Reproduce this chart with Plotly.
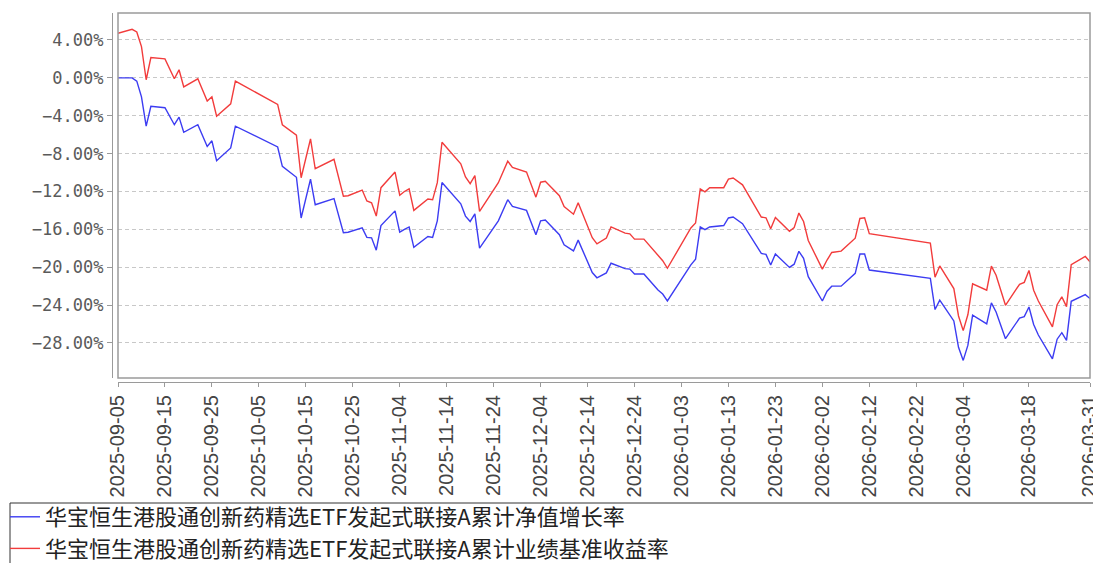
import plotly.graph_objects as go

# ---------------- data ----------------
dates = [
    "2025-09-05", "2025-09-08", "2025-09-09", "2025-09-10", "2025-09-11", "2025-09-12",
    "2025-09-15", "2025-09-17", "2025-09-18", "2025-09-19", "2025-09-22", "2025-09-24",
    "2025-09-25", "2025-09-26", "2025-09-29", "2025-09-30", "2025-10-09", "2025-10-10",
    "2025-10-13", "2025-10-14", "2025-10-16", "2025-10-17", "2025-10-21", "2025-10-23",
    "2025-10-24", "2025-10-27", "2025-10-28", "2025-10-29", "2025-10-30", "2025-10-31",
    "2025-11-03", "2025-11-04", "2025-11-05", "2025-11-06", "2025-11-07", "2025-11-10",
    "2025-11-11", "2025-11-12", "2025-11-13", "2025-11-17", "2025-11-18", "2025-11-19",
    "2025-11-20", "2025-11-21", "2025-11-25", "2025-11-27", "2025-11-28", "2025-12-01",
    "2025-12-03", "2025-12-04", "2025-12-05", "2025-12-08", "2025-12-09", "2025-12-11",
    "2025-12-12", "2025-12-15", "2025-12-16", "2025-12-18", "2025-12-19", "2025-12-22",
    "2025-12-23", "2025-12-24", "2025-12-26", "2025-12-29", "2025-12-30", "2025-12-31",
    "2026-01-05", "2026-01-06", "2026-01-07", "2026-01-08", "2026-01-09", "2026-01-12",
    "2026-01-13", "2026-01-14", "2026-01-16", "2026-01-20", "2026-01-21", "2026-01-22",
    "2026-01-23", "2026-01-26", "2026-01-27", "2026-01-28", "2026-01-29", "2026-01-30",
    "2026-02-02", "2026-02-03", "2026-02-04", "2026-02-06", "2026-02-09", "2026-02-10",
    "2026-02-11", "2026-02-12", "2026-02-25", "2026-02-26", "2026-02-27", "2026-03-02",
    "2026-03-03", "2026-03-04", "2026-03-05", "2026-03-06", "2026-03-09", "2026-03-10",
    "2026-03-11", "2026-03-13", "2026-03-16", "2026-03-17", "2026-03-18", "2026-03-19",
    "2026-03-20", "2026-03-23", "2026-03-24", "2026-03-25", "2026-03-26", "2026-03-27",
    "2026-03-30", "2026-03-31",
]

nav_growth = [
    0.00, 0.00, -0.35, -2.00, -5.10, -3.00,
    -3.15, -4.95, -4.15, -5.75, -4.95, -7.25,
    -6.65, -8.75, -7.40, -5.10, -7.30, -9.35,
    -10.50, -14.80, -10.70, -13.40, -12.75, -16.35,
    -16.30, -15.85, -16.85, -16.90, -18.20, -15.60,
    -14.05, -16.30, -16.00, -15.75, -17.90, -16.75,
    -16.85, -15.10, -11.05, -13.30, -14.60, -15.17,
    -14.36, -17.98, -15.10, -12.87, -13.57, -14.00,
    -16.57, -15.10, -15.02, -16.57, -17.63, -18.28,
    -17.14, -20.56, -21.12, -20.60, -19.58, -20.15,
    -20.20, -20.71, -20.71, -22.41, -22.83, -23.56,
    -19.75, -19.15, -15.75, -16.03, -15.75, -15.60,
    -14.80, -14.69, -15.40, -18.55, -18.64, -19.77,
    -18.60, -20.02, -19.68, -18.32, -19.06, -21.00,
    -23.57, -22.54, -22.00, -22.00, -20.65, -18.60,
    -18.60, -20.30, -21.18, -24.47, -23.48, -25.67,
    -28.46, -29.84, -28.23, -25.07, -25.99, -23.77,
    -24.72, -27.55, -25.37, -25.22, -24.20, -26.05,
    -27.16, -29.67, -27.60, -26.91, -27.72, -23.60,
    -22.90, -23.31,
]

benchmark = [
    4.71, 5.13, 4.85, 3.30, -0.20, 2.15,
    2.00, -0.10, 0.85, -0.95, -0.10, -2.45,
    -2.00, -4.05, -2.75, -0.35, -2.80, -4.95,
    -6.05, -10.55, -6.45, -9.60, -8.60, -12.50,
    -12.45, -11.85, -13.00, -13.20, -14.60, -11.60,
    -9.95, -12.40, -12.00, -11.72, -14.00, -12.80,
    -12.88, -11.07, -6.80, -9.08, -10.47, -11.17,
    -10.33, -14.10, -11.07, -8.80, -9.45, -9.95,
    -12.60, -11.02, -10.93, -12.45, -13.60, -14.40,
    -13.18, -16.88, -17.54, -16.92, -15.75, -16.40,
    -16.48, -17.03, -17.03, -18.80, -19.31, -20.11,
    -15.86, -15.33, -11.72, -12.04, -11.60, -11.60,
    -10.70, -10.58, -11.30, -14.70, -14.78, -15.93,
    -14.75, -16.20, -15.82, -14.28, -15.17, -17.18,
    -20.20, -19.24, -18.44, -18.30, -16.94, -14.85,
    -14.77, -16.45, -17.45, -21.05, -19.86, -22.25,
    -25.15, -26.70, -25.00, -21.76, -22.43, -19.88,
    -20.84, -24.02, -21.80, -21.60, -20.34, -22.43,
    -23.57, -26.30, -23.96, -23.13, -24.16, -19.73,
    -18.86, -19.43,
]

series_names = [
    "华宝恒生港股通创新药精选ETF发起式联接A累计净值增长率",
    "华宝恒生港股通创新药精选ETF发起式联接A累计业绩基准收益率",
]

x_tick_dates = [
    "2025-09-05", "2025-09-15", "2025-09-25", "2025-10-05", "2025-10-15", "2025-10-25",
    "2025-11-04", "2025-11-14", "2025-11-24", "2025-12-04", "2025-12-14", "2025-12-24",
    "2026-01-03", "2026-01-13", "2026-01-23", "2026-02-02", "2026-02-12", "2026-02-22",
    "2026-03-04", "2026-03-18", "2026-03-31",
]
x_tick_labels = list(x_tick_dates)

y_ticks = [4, 0, -4, -8, -12, -16, -20, -24, -28]
y_tick_labels = ["4.00%", "0.00%", "−4.00%", "−8.00%", "−12.00%", "−16.00%",
                 "−20.00%", "−24.00%", "−28.00%"]

# ---------------- layout geometry ----------------
# Positions are given in screen pixels of the reference; the page body has an
# 8px margin, so everything is shifted by OFF inside the figure.
W, H = 1101, 563
OFF = 8
AX_L, AX_R, AX_T, AX_B = 112 - OFF, 1090 - OFF, 13 - OFF, 382 - OFF   # offset spines
BOX_L, BOX_B = 118 - OFF, 378 - OFF                                   # plot border box
pw = AX_R - AX_L
ph = AX_B - AX_T


def px_x(p):
    return (p - OFF - AX_L) / pw


def px_y(p):
    return (AX_B - (p - OFF)) / ph


fig = go.Figure()
fig.add_trace(go.Scatter(
    x=dates, y=nav_growth, mode="lines", name=series_names[0],
    line=dict(color="#3c3cf2", width=1.4),
))
fig.add_trace(go.Scatter(
    x=dates, y=benchmark, mode="lines", name=series_names[1],
    line=dict(color="#f23c3c", width=1.4),
))

fig.update_layout(
    width=W, height=H,
    margin=dict(l=AX_L, r=W - AX_R, t=AX_T, b=H - AX_B, pad=0, autoexpand=False),
    paper_bgcolor="white", plot_bgcolor="white",
    showlegend=True,
    legend=dict(
        x=px_x(5), xanchor="left", y=px_y(496), yanchor="top",
        bgcolor="rgba(0,0,0,0)", borderwidth=0,
        font=dict(family="Noto Sans CJK SC", size=22, color="#222222"),
        tracegroupgap=0, traceorder="normal",
    ),
    xaxis=dict(
        type="date",
        domain=[(BOX_L - AX_L) / pw, 1],
        range=[dates[0], dates[-1]],
        anchor="free", position=0,
        showline=True, linecolor="#9a9a9a", linewidth=1.2,
        ticks="outside", ticklen=4, tickcolor="#9a9a9a", tickwidth=1,
        tickmode="array", tickvals=x_tick_dates, ticktext=x_tick_labels,
        tickangle=-90,
        tickfont=dict(family="Liberation Sans", size=20, color="#444444"),
        showgrid=False, zeroline=False, automargin=False,
    ),
    yaxis=dict(
        domain=[(AX_B - BOX_B) / ph, 1],
        range=[-31.7, 6.85],
        anchor="free", position=0,
        showline=True, linecolor="#9a9a9a", linewidth=1.2,
        ticks="outside", ticklen=5, tickcolor="#9a9a9a", tickwidth=1,
        tickmode="array", tickvals=y_ticks, ticktext=y_tick_labels,
        tickfont=dict(family="DejaVu Sans Mono", size=17, color="#5a5a5a"),
        showgrid=True, gridcolor="#c8c8c8", gridwidth=1, griddash="4px,3px",
        zeroline=False, automargin=False,
    ),
    shapes=[
        # plot border box
        dict(type="rect", xref="x domain", yref="y domain", x0=0, x1=1, y0=0, y1=1,
             line=dict(color="#9a9a9a", width=1.5), fillcolor="rgba(0,0,0,0)", layer="above"),
        # legend frame (runs past the right and bottom edges)
        dict(type="rect", xref="paper", yref="paper",
             x0=px_x(10), x1=px_x(1115), y0=px_y(503), y1=px_y(575),
             line=dict(color="#333333", width=1), fillcolor="rgba(0,0,0,0)"),
    ],
)

fig.write_html("out.html")
